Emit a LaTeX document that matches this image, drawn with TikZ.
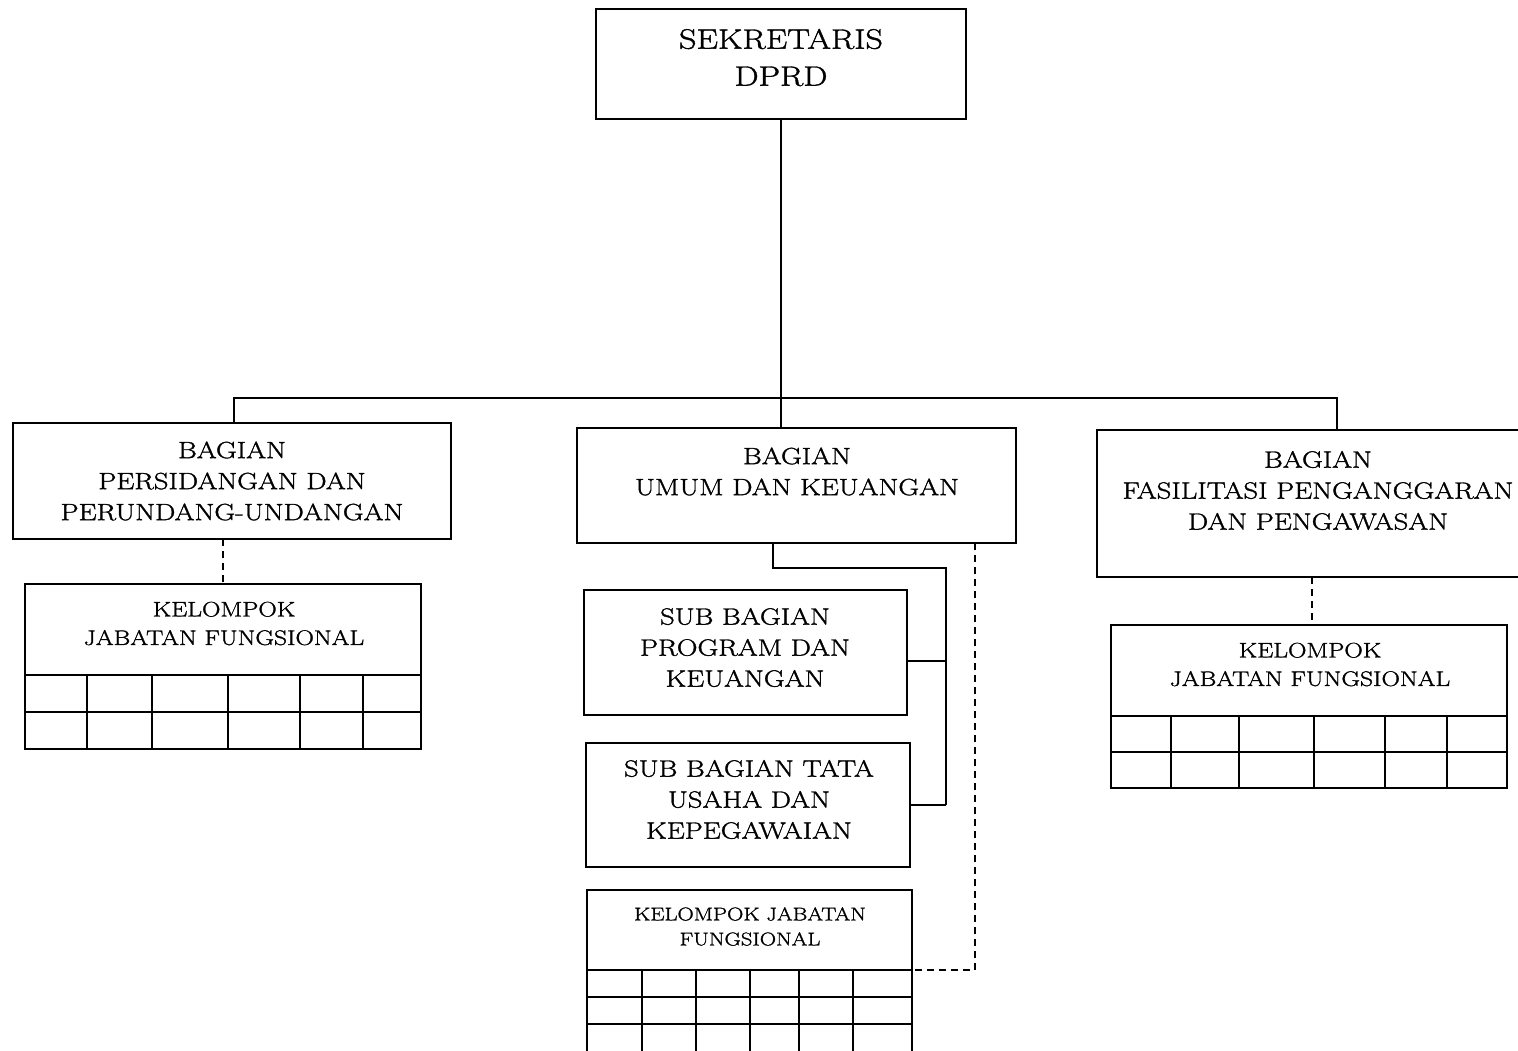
\documentclass[tikz,border=0pt]{standalone}
\usepackage{fontspec}
\setmainfont{Latin Modern Roman}[FakeStretch=1.22, FakeBold=1.3]
\usetikzlibrary{calc}
\tikzset{
  box/.style={draw, rectangle, inner sep=0pt, outer sep=0pt},
  txt/.style={align=center, inner sep=0pt, outer sep=0pt},
  fA/.style={font=\fontsize{28}{37}\selectfont},
  fB/.style={font=\fontsize{23.5}{31}\selectfont},
  fC/.style={font=\fontsize{21}{28.5}\selectfont},
  fD/.style={font=\fontsize{18.5}{25}\selectfont},
  dsh/.style={dash pattern=on 7pt off 5pt},
}
\begin{document}
\begin{tikzpicture}[x=1pt,y=-1pt,line width=1.8pt]
\useasboundingbox (0,0) rectangle (1518,1050);
\clip (0,0) rectangle (1518,1050);
\fill[white] (0,0) rectangle (1518,1050);

% boxes
\node[box, minimum width=370pt, minimum height=110pt] (sek) at (781,64) {};
\node[box, minimum width=438pt, minimum height=116pt] (bag1) at (232,481) {};
\node[box, minimum width=439pt, minimum height=115pt] (bag2) at (796.5,485.5) {};
\node[box, minimum width=443pt, minimum height=147pt] (bag3) at (1318.5,503.5) {};
\node[box, minimum width=396pt, minimum height=165pt] (kel1) at (223,666.5) {};
\node[box, minimum width=323pt, minimum height=125pt] (sub1) at (745.5,652.5) {};
\node[box, minimum width=324pt, minimum height=124pt] (sub2) at (748,805) {};
\node[box, minimum width=325pt, minimum height=190pt] (kel2) at (749.5,985) {};
\node[box, minimum width=396pt, minimum height=163pt] (kel3) at (1309,706.5) {};

% texts
\node[txt, fA] (sekT) at (781,57.5) {SEKRETARIS\\DPRD};
\node[txt, fB] (bag1T) at (232,481) {BAGIAN\\PERSIDANGAN DAN\\PERUNDANG-UNDANGAN};
\node[txt, fB] (bag2T) at (797,471.5) {BAGIAN\\UMUM DAN KEUANGAN};
\node[txt, fB] (bag3T) at (1318,490.5) {BAGIAN\\FASILITASI PENGANGGARAN\\DAN PENGAWASAN};
\node[txt, fC] (kel1T) at (224,623.5) {KELOMPOK\\JABATAN FUNGSIONAL};
\node[txt, fC] (kel3T) at (1310,664.5) {KELOMPOK\\JABATAN FUNGSIONAL};
\node[txt, fB] (sub1T) at (745,647.5) {SUB BAGIAN\\PROGRAM DAN\\KEUANGAN};
\node[txt, fB] (sub2T) at (749,799.5) {SUB BAGIAN TATA\\USAHA DAN\\KEPEGAWAIAN};
\node[txt, fD] (kel2T) at (750,926.5) {KELOMPOK JABATAN\\FUNGSIONAL};

% grids
\draw (25,675) -- (421,675) (25,712) -- (421,712);
\foreach \x in {87,152,228,300,363} \draw (\x,675) -- (\x,749);
\draw (1111,716) -- (1507,716) (1111,752) -- (1507,752);
\foreach \x in {1171,1239,1314,1385,1447} \draw (\x,716) -- (\x,788);
\draw (587,970) -- (912,970) (587,997) -- (912,997) (587,1024) -- (912,1024);
\foreach \x in {642,696,750,799,853} \draw (\x,970) -- (\x,1080);

% connectors
\coordinate (busL) at (234,398);
\coordinate (busR) at (1337,398);
\draw (sek.south) -- (sek.south |- bag2.north);
\draw (busL |- bag1.north) -- (busL) -- (busR) -- (busR |- bag3.north);
\draw[dsh] (bag1.south -| kel1.north) -- (kel1.north);
\draw[dsh] (bag3.south -| 1312,0) -- (kel3.north -| 1312,0);

\coordinate (a) at (773,0);
\coordinate (trunk) at (946,568);
\draw (bag2.south -| a) |- (trunk) -- (trunk |- sub2.east);
\draw ($(sub1.east)+(0,8.5)$) -- ($(sub1.east -| trunk)+(0,8.5)$);
\draw (sub2.east) -- (sub2.east -| trunk);
\coordinate (d) at (975,970);
\draw[dsh] (bag2.south -| d) -- (d) -- (d -| kel2.east);
\end{tikzpicture}
\end{document}
